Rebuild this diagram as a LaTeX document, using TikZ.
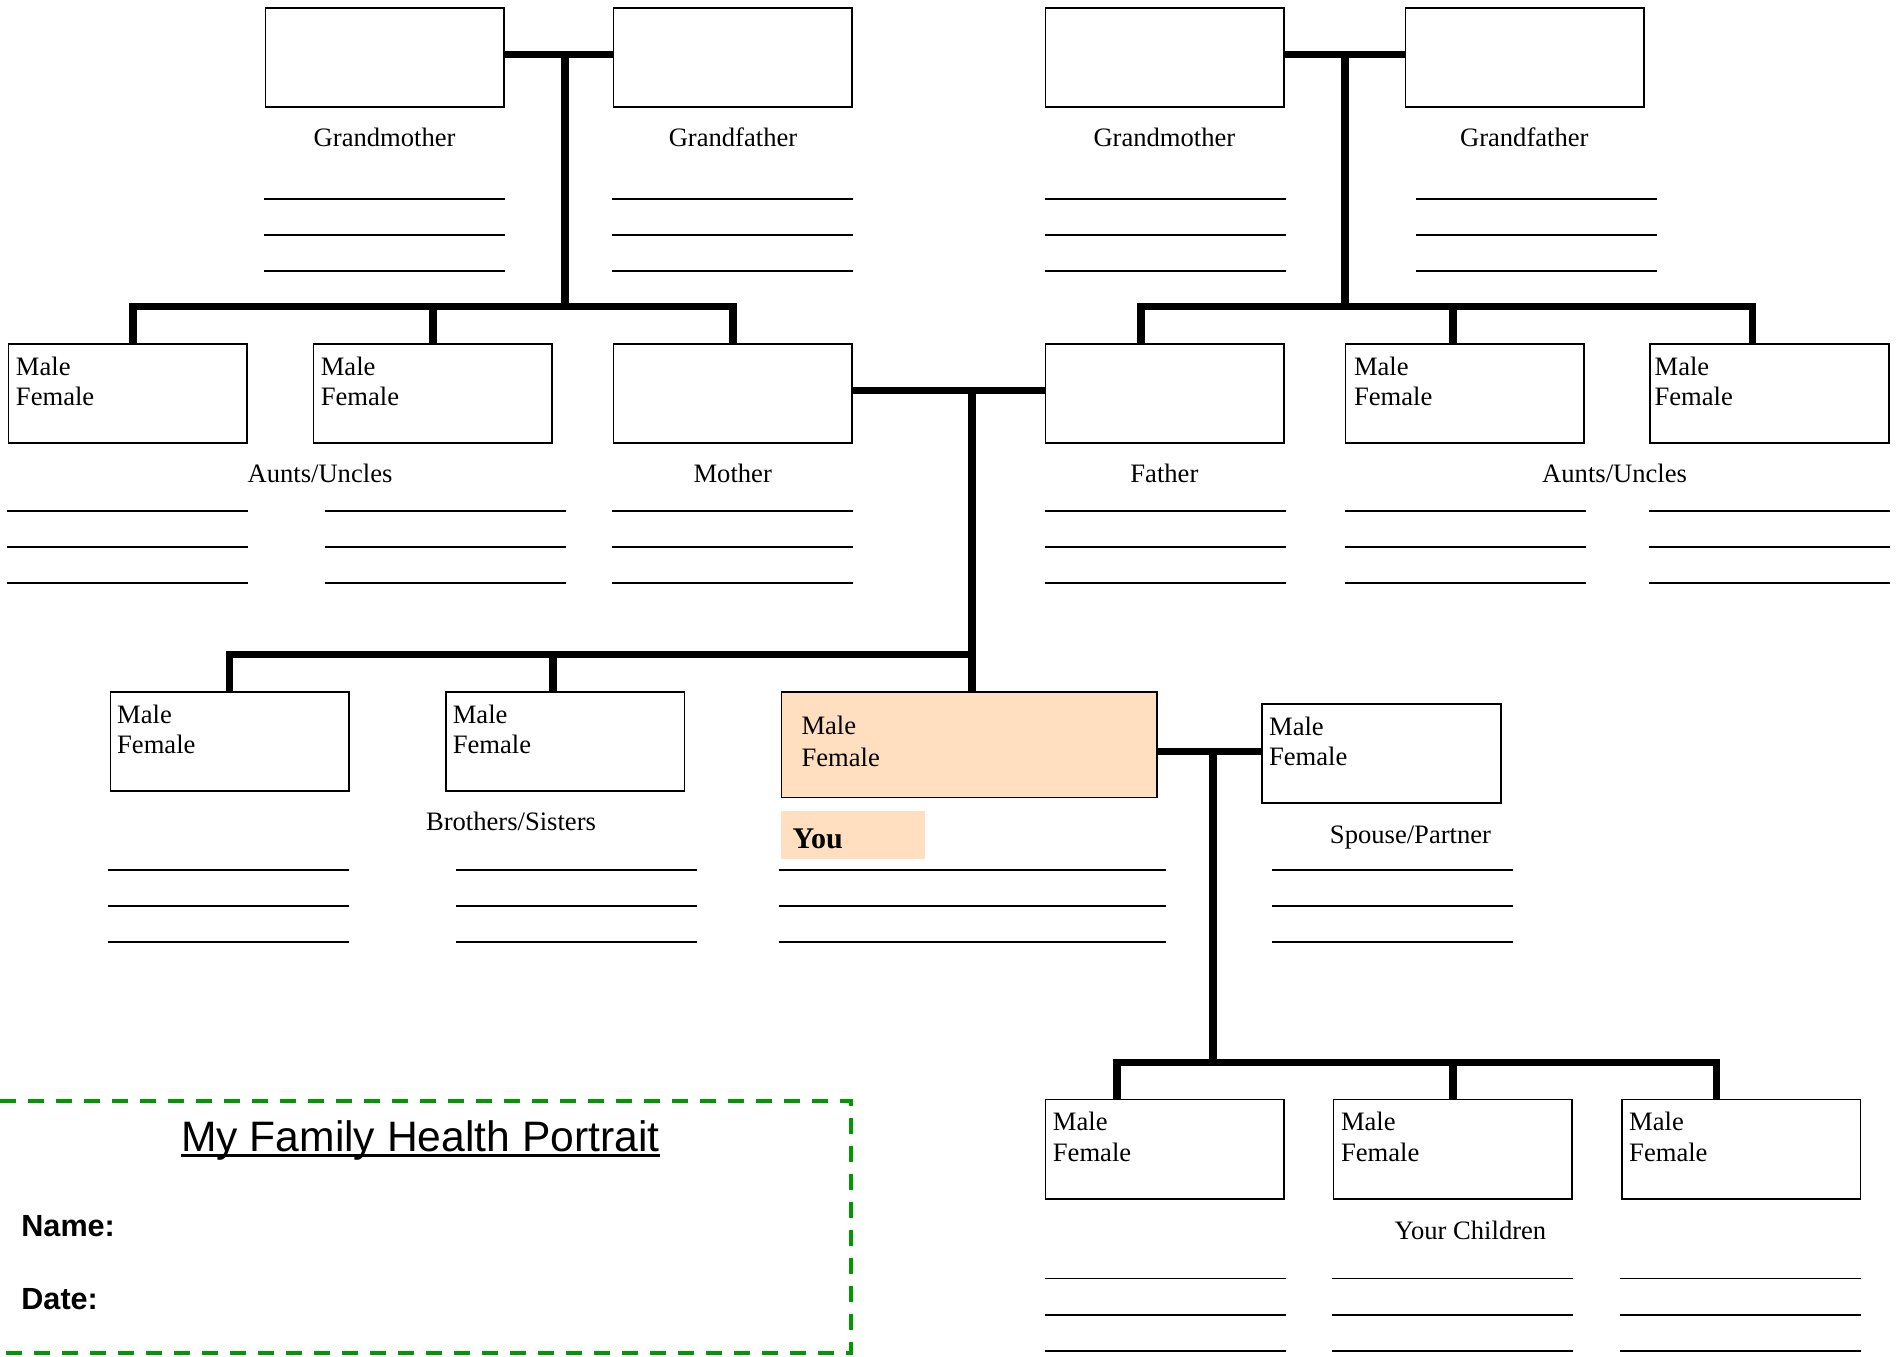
\documentclass[tikz,border=0pt]{standalone}
\usepackage{fontspec}
\setmainfont{Liberation Serif}
\setsansfont{Liberation Sans}
\usetikzlibrary{positioning,calc}
\definecolor{youfill}{RGB}{255,223,191}
\definecolor{framegreen}{RGB}{0,153,0}

\begin{document}
\begin{tikzpicture}[
  x=0.5pt,y=-0.5pt,
  font=\fontsize{13.3}{15.6}\selectfont,
  box/.style={draw,line width=0.8pt,anchor=north west,inner sep=0pt,outer sep=0pt,
              minimum width=119.3pt,minimum height=49.6pt},
  mf/.style={anchor=base west,inner sep=0pt},
  lbl/.style={anchor=base,inner sep=0pt},
  conn/.style={line width=3.8pt,line join=miter},
  rule/.style={line width=0.9pt},
  frame/.style={draw=framegreen,line width=2pt,dash pattern=on 8pt off 6pt}
]
\useasboundingbox (0,0) rectangle (1900,1356);

% grandparents
\node[box] (gmM) at (265.6,7.8) {};
\node[box] (gfM) at (613.6,7.8) {};
\node[box] (gmP) at (1045.6,7.8) {};
\node[box] (gfP) at (1405.5,7.8) {};
% parents, aunts and uncles
\node[box] (au1) at (8.6,344) {};
\node[box] (au2) at (313.4,344) {};
\node[box] (mo) at (613.6,344) {};
\node[box] (fa) at (1045.6,344) {};
\node[box] (au3) at (1345.6,344) {};
\node[box] (au4) at (1650.2,344) {};
% you, siblings, partner
\node[box] (br1) at (110.3,692) {};
\node[box] (br2) at (445.9,692) {};
\node[box,fill=youfill,minimum width=187.8pt,minimum height=52.9pt] (you) at (781.6,691.8) {};
\node[box] (sp) at (1262.2,704) {};
% children
\node[box] (ch1) at (1045.5,1099.5) {};
\node[box] (ch2) at (1333.6,1099.5) {};
\node[box] (ch3) at (1621.8,1099.5) {};

\foreach \b/\dx in {au1/7,au2/7,au3/8,au4/4,br1/6.5,br2/6.5,sp/6.5,ch1/7,ch2/7,ch3/7}{
  \node[mf] (\b-m) at ([shift={(\dx,31)}]\b.north west) {Male};
  \node[mf] (\b-f) at ([shift={(\dx,61.5)}]\b.north west) {Female};
}
\node[mf] (you-m) at ([shift={(19.5,42.6)}]you.north west) {Male};
\node[mf] (you-f) at ([shift={(19.5,74.3)}]you.north west) {Female};

% junctions
\coordinate (jM) at (565,54.6);
\coordinate (bM) at (565,306.6);
\coordinate (jP) at (1345,54.6);
\coordinate (bP) at (1345,306.6);
\coordinate (jMF) at (972,390.5);
\coordinate (bS) at (972,654.3);
\coordinate (jY) at (1212.8,751.3);
\coordinate (bC) at (1212.8,1062.5);

\draw[conn] (gmM.east |- jM) -- (gfM.west |- jM);
\draw[conn] (jM) -- (bM);
\draw[conn] ([xshift=2.5pt]au1.north) |- (bM) -| (mo.north);
\draw[conn] (au2.north) -- ++(0,-37.4);

\draw[conn] (gmP.east |- jP) -- (gfP.west |- jP);
\draw[conn] (jP) -- (bP);
\draw[conn] ([xshift=-12pt]fa.north) |- (bP) -| ([xshift=-8.5pt]au4.north);
\draw[conn] ([xshift=-6.1pt]au3.north) -- ++(0,-37.4);

\draw[conn] (mo.east |- jMF) -- (fa.west |- jMF);
\draw[conn] (jMF) -- (bS);
\draw[conn] (br1.north) |- (bS) -- (bS |- you.north);
\draw[conn] ([xshift=-6.2pt]br2.north) -- ++(0,-37.7);

\draw[conn] (you.east |- jY) -- (sp.west |- jY);
\draw[conn] (jY) -- (bC);
\draw[conn] ([xshift=-23.9pt]ch1.north) |- (bC) -| ([xshift=-12.3pt]ch3.north);
\draw[conn] (ch2.north) -- ++(0,-37);

% labels
\node[lbl] (lgmM) at (384.6,146) {Grandmother};
\node[lbl] (lgfM) at (733,146) {Grandfather};
\node[lbl] (lgmP) at (1164.4,146) {Grandmother};
\node[lbl] (lgfP) at (1524.3,146) {Grandfather};
\node[lbl] (lauM) at (320,482.7) {Aunts/Uncles};
\node[lbl] (lmo) at (732.7,482.7) {Mother};
\node[lbl] (lfa) at (1164.4,482.7) {Father};
\node[lbl] (lauP) at (1614.6,482.7) {Aunts/Uncles};
\node[lbl] (lbr) at (511,830) {Brothers/Sisters};
\node[lbl] (lsp) at (1410.5,843.6) {Spouse/Partner};
\node[lbl] (lch) at (1470.4,1239) {Your Children};

\fill[youfill] (781,811) rectangle (925,858.7);
\node[mf,font=\bfseries\fontsize{15}{18}\selectfont] (lyou) at (792.3,848) {You};

% lines to write on
\foreach \x/\y/\w in {264/198.6/241, 612/198.6/241, 1044.5/198.6/241, 1416/198.6/241,
    7/510.6/241, 324.5/510.6/241, 612/510.6/241, 1044.5/510.6/241, 1345/510.6/241, 1649/510.6/241,
    108/870/241, 456/870/241, 779/870/386.5, 1272/870/241,
    1044.6/1278.5/241, 1332.2/1278.5/241, 1620.4/1278.5/241}{
  \foreach \k in {0,1,2}
    \draw[rule] (\x,\y+36.1*\k) -- ++(\w,0);
}

% title frame
\draw[frame] (0,1100.7) -- (850.6,1100.7) -- (850.6,1353.3) -- (0,1353.3);
\node[lbl,font=\sffamily\fontsize{21.3}{24}\selectfont] (title) at (420.3,1151) {My Family Health Portrait};
\draw[line width=1.3pt] ([yshift=-2.2pt]title.base west) -- ([yshift=-2.2pt]title.base east);
\node[mf,font=\sffamily\bfseries\fontsize{15.3}{18}\selectfont] (name) at (21,1236.7) {Name:};
\node[mf,font=\sffamily\bfseries\fontsize{15.3}{18}\selectfont] (date) at (21,1309) {Date:};
\end{tikzpicture}
\end{document}
